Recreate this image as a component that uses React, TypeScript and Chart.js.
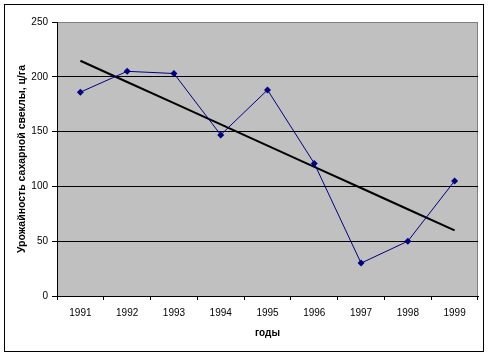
import React, { useEffect, useRef } from "react";
import { Chart, registerables } from "chart.js";

Chart.register(...registerables);

const years = ["1991", "1992", "1993", "1994", "1995", "1996", "1997", "1998", "1999"];
const yields = [186, 205, 203, 147, 188, 121, 30, 50, 105];
const yTitle = "Урожайность сахарной свеклы, ц/га";
const xTitle = "годы";

function linearTrend(vals: number[]): number[] {
  const n = vals.length;
  const mx = (n - 1) / 2;
  const my = vals.reduce((a, b) => a + b, 0) / n;
  let sxy = 0;
  let sxx = 0;
  vals.forEach((v, i) => {
    sxy += (i - mx) * (v - my);
    sxx += (i - mx) * (i - mx);
  });
  const slope = sxy / sxx;
  return vals.map((_, i) => my + slope * (i - mx));
}

const FONT = "'Liberation Sans', Arial, sans-serif";

const framePlugin = {
  id: "frame",
  beforeDraw(chart: any) {
    const { ctx, chartArea: a } = chart;
    ctx.save();
    ctx.fillStyle = "#ffffff";
    ctx.fillRect(0, 0, chart.width, chart.height);
    ctx.fillStyle = "#c0c0c0";
    ctx.fillRect(a.left, a.top, a.right - a.left, a.bottom - a.top);
    ctx.strokeStyle = "#808080";
    ctx.lineWidth = 1;
    ctx.strokeRect(a.left + 0.5, a.top + 0.5, a.right - a.left - 1, a.bottom - a.top);
    ctx.strokeStyle = "#000000";
    ctx.strokeRect(4.5, 4.5, 479, 347);
    ctx.restore();
  },
};

export default function App() {
  const ref = useRef<HTMLCanvasElement | null>(null);
  useEffect(() => {
    if (!ref.current) return;
    const trend = linearTrend(yields);
    const chart = new Chart(ref.current, {
      type: "line",
      data: {
        labels: years,
        datasets: [
          {
            data: yields,
            borderColor: "#000080",
            backgroundColor: "#000080",
            borderWidth: 1,
            pointStyle: "rectRot",
            pointRadius: 3.5,
            pointBorderWidth: 0,
            tension: 0,
          },
          {
            data: trend,
            borderColor: "#000000",
            borderWidth: 2,
            pointRadius: 0,
            tension: 0,
          },
        ],
      },
      options: {
        responsive: false,
        animation: false,
        devicePixelRatio: 1,
        layout: { padding: { top: 22, right: 12, left: 0, bottom: 0 } },
        plugins: {
          legend: { display: false },
          tooltip: { enabled: false },
        },
        scales: {
          x: {
            offset: true,
            afterFit(scale: any) {
              scale.height = 61;
            },
            grid: {
              offset: true,
              drawOnChartArea: false,
              drawTicks: true,
              tickLength: 4,
              tickColor: "#000000",
            },
            border: { display: true, color: "#000000", width: 1 },
            ticks: {
              color: "#000000",
              font: { family: FONT, size: 10 },
              padding: 7,
              maxRotation: 0,
            },
            title: {
              display: true,
              text: xTitle,
              color: "#000000",
              font: { family: FONT, size: 10, weight: "bold", lineHeight: 1.2 },
              padding: { top: 0, bottom: 18 },
            },
          },
          y: {
            min: 0,
            max: 250,
            afterFit(scale: any) {
              scale.width = 57;
            },
            ticks: {
              stepSize: 50,
              color: "#000000",
              font: { family: FONT, size: 10 },
              padding: 4,
            },
            grid: {
              color: (c: any) => (c.tick && c.tick.value === 250 ? "#808080" : "#000000"),
              lineWidth: 1,
              tickLength: 5,
              tickColor: "#000000",
            },
            border: { display: true, color: "#000000", width: 1 },
            title: {
              display: true,
              text: yTitle,
              color: "#000000",
              font: { family: FONT, size: 10.5, weight: "bold", lineHeight: 1.2 },
              padding: { top: 16, bottom: 0 },
            },
          },
        },
      },
      plugins: [framePlugin],
    });
    return () => chart.destroy();
  }, []);
  return (
    <div style={{ position: "absolute", left: 0, top: 0, width: 490, height: 357 }}>
      <canvas ref={ref} width={490} height={357} style={{ display: "block" }} />
    </div>
  );
}
